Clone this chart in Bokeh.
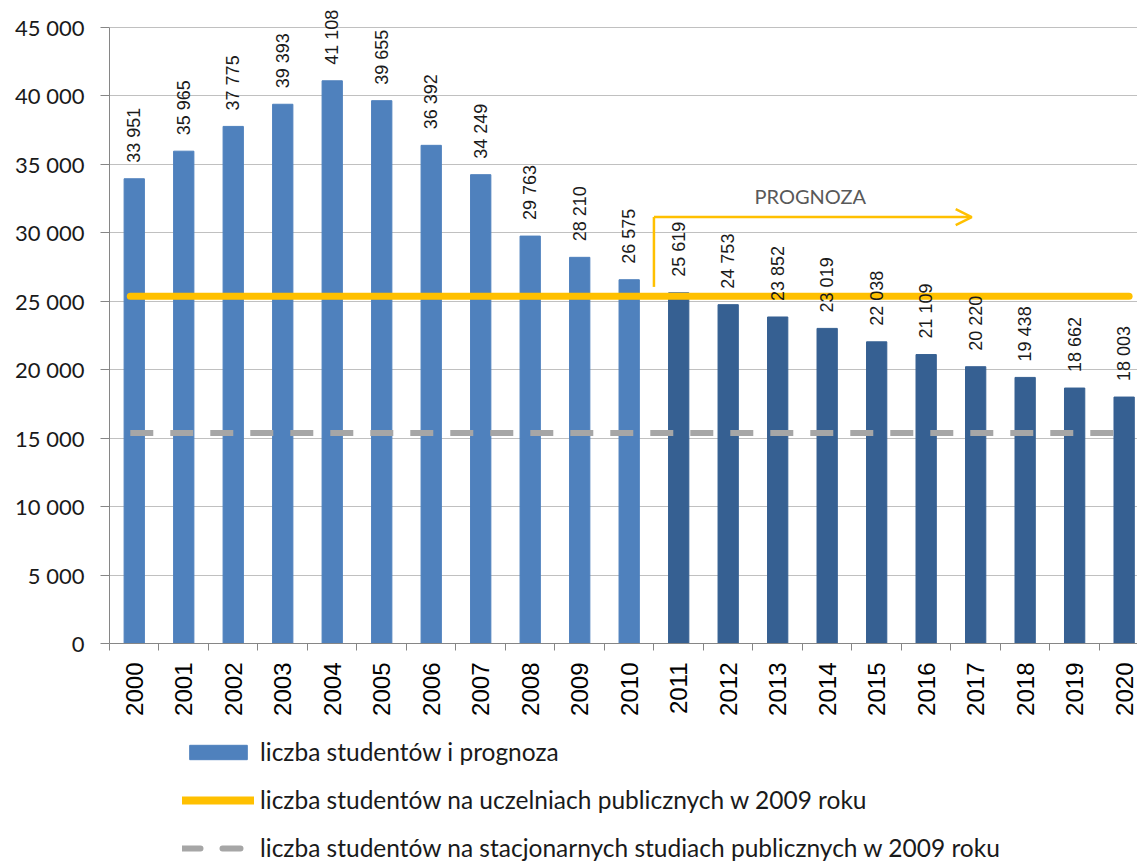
from bokeh.plotting import figure
from bokeh.models import (Range1d, FixedTicker, ColumnDataSource, Legend, LegendItem,
                          Arrow, OpenHead, Label)
from bokeh.layouts import column
from bokeh.core.properties import value
from bokeh.embed import file_html
from bokeh.resources import INLINE
import math

# ---- data ----
years = list(range(2000, 2021))
students = [33951, 35965, 37775, 39393, 41108, 39655, 36392, 34249, 29763, 28210, 26575,
            25619, 24753, 23852, 23019, 22038, 21109, 20220, 19438, 18662, 18003]
value_labels = ["33 951", "35 965", "37 775", "39 393", "41 108", "39 655", "36 392", "34 249",
                "29 763", "28 210", "26 575", "25 619", "24 753", "23 852", "23 019", "22 038",
                "21 109", "20 220", "19 438", "18 662", "18 003"]
forecast_start = 2011
public_2009 = 25370
fulltime_public_2009 = 15370
y_ticks = [0, 5000, 10000, 15000, 20000, 25000, 30000, 35000, 40000, 45000]
y_tick_labels = ["0", "5 000", "10 000", "15 000", "20 000", "25 000", "30 000", "35 000",
                 "40 000", "45 000"]
legend_labels = ["liczba studentów i prognoza",
                 "liczba studentów na uczelniach publicznych w 2009 roku",
                 "liczba studentów na stacjonarnych studiach publicznych w 2009 roku"]
prognoza_label = "PROGNOZA"
prognoza_arrow_y = [26050, 31150]

HIST = "#4F81BD"
FORE = "#366092"
YEL = "#FFC000"
GRAY = "#A6A6A6"
AXIS = "#868686"

colors = [HIST if y < forecast_start else FORE for y in years]
src = ColumnDataSource(dict(x=years, top=students, color=colors, lab=value_labels))

W = 1137
H_MAIN = 720
H_LEG = 141

p = figure(width=W, height=H_MAIN, x_range=Range1d(1999.5, 2020.27), y_range=Range1d(0, 46973),
           output_backend="svg", toolbar_location=None,
           min_border_left=109, min_border_top=0, min_border_right=0, min_border_bottom=77)
p.outline_line_color = None
p.xgrid.grid_line_color = None
p.ygrid.grid_line_color = "#C0C0C0"
p.ygrid.grid_line_width = 1
p.background_fill_color = "white"
p.border_fill_color = "white"

# y axis
p.yaxis.ticker = FixedTicker(ticks=y_ticks)
p.yaxis.bounds = (y_ticks[0], y_ticks[-1])
p.yaxis.major_label_overrides = {t: l for t, l in zip(y_ticks, y_tick_labels)}
p.yaxis.major_tick_out = 9
p.yaxis.major_tick_in = 0
p.yaxis.minor_tick_line_color = None
p.yaxis.axis_line_color = AXIS
p.yaxis.major_tick_line_color = AXIS
p.yaxis.major_label_text_font = "Lato"
p.yaxis.major_label_text_font_size = "22px"
p.yaxis.major_label_text_color = "#1a1a1a"
p.yaxis.major_label_standoff = 16

# x axis
p.xaxis.ticker = FixedTicker(ticks=years, minor_ticks=[y - 0.5 for y in years] + [years[-1] + 0.5])
p.xaxis.major_label_overrides = {y: str(y) for y in years}
p.xaxis.major_tick_line_color = None
p.xaxis.minor_tick_line_color = AXIS
p.xaxis.minor_tick_out = 7
p.xaxis.minor_tick_in = 0
p.xaxis.axis_line_color = AXIS
p.xaxis.major_label_orientation = math.pi / 2
p.xaxis.major_label_text_font = "Liberation Sans"
p.xaxis.major_label_text_font_size = "24px"
p.xaxis.major_label_text_color = "#000000"
p.xaxis.major_label_standoff = 12

bars = p.vbar(x="x", top="top", width=0.41, source=src, fill_color="color", line_color="color")

p.line(x=[years[0] - 0.08, years[-1] + 0.1], y=[public_2009, public_2009],
       line_color=YEL, line_width=7, line_cap="round")
p.line(x=[years[0] - 0.08, years[-1] - 0.15], y=[fulltime_public_2009, fulltime_public_2009],
       line_color=GRAY, line_width=6, line_dash="23 17")

# value labels drawn on top of the reference lines
p.text(x="x", y="top", text="lab", source=src, angle=math.pi / 2, text_align="left",
       text_baseline="middle", x_offset=0, y_offset=-16,
       text_font=value("Liberation Sans"), text_font_size="18px", text_color="#1a1a1a")

# prognoza arrow
split = forecast_start - 0.5
p.line(x=[split, split], y=prognoza_arrow_y, line_color=YEL, line_width=2.5)
p.add_layout(Arrow(x_start=split, y_start=prognoza_arrow_y[1], x_end=2016.92, y_end=prognoza_arrow_y[1],
                   line_color=YEL, line_width=2.5,
                   end=OpenHead(size=16, line_color=YEL, line_width=2.5)))
p.add_layout(Label(x=2013.66, y=32700, text=prognoza_label, text_align="center", text_baseline="middle",
                   text_font="Lato", text_font_size="20px", text_color="#595959"))

# ---- legend figure ----
lf = figure(width=W, height=H_LEG, x_range=Range1d(0, 1), y_range=Range1d(0, 1),
            output_backend="svg", toolbar_location=None,
            min_border_left=0, min_border_top=0, min_border_right=0, min_border_bottom=0)
lf.axis.visible = False
lf.grid.visible = False
lf.outline_line_color = None
# sample points kept outside the visible range: these renderers only feed the legend glyphs
offscreen = ColumnDataSource(dict(x=[-5, -4], y=[-5, -5], top=[-5, -5]))
r_bar = lf.vbar(x="x", top="top", width=0.4, source=offscreen, fill_color=HIST, line_color=HIST)
r_yel = lf.line(x="x", y="y", source=offscreen, line_color=YEL, line_width=8, line_cap="round")
r_gray = lf.line(x="x", y="y", source=offscreen, line_color=GRAY, line_width=6,
                 line_dash="18 22", line_cap="round")

legend = Legend(items=[LegendItem(label=legend_labels[0], renderers=[r_bar]),
                       LegendItem(label=legend_labels[1], renderers=[r_yel]),
                       LegendItem(label=legend_labels[2], renderers=[r_gray])],
                location=(73, -1), orientation="vertical", padding=0, margin=0, spacing=19,
                glyph_width=72, glyph_height=18, label_standoff=6,
                label_text_font="Lato", label_text_font_size="24.5px", label_text_color="#1a1a1a",
                background_fill_alpha=0, border_line_color=None, label_height=22)
lf.add_layout(legend, "center")

layout = column(p, lf, spacing=0)
open("out.html", "w").write(file_html(layout, INLINE))
